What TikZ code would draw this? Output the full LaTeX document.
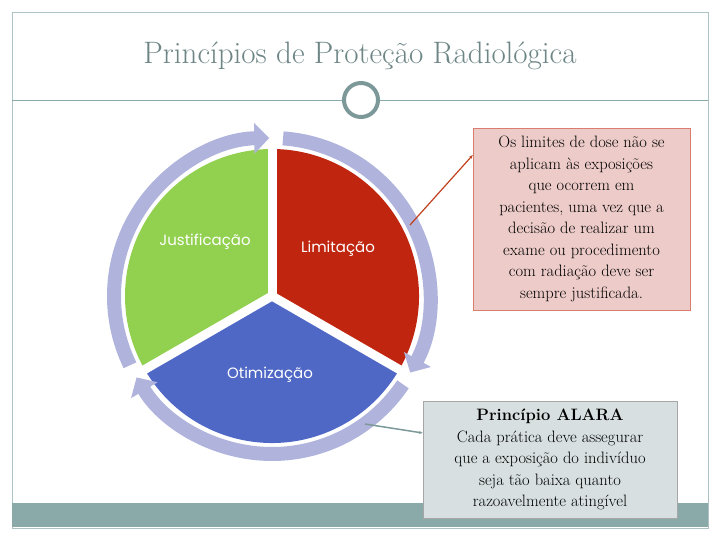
\documentclass[tikz,border=0pt]{standalone}
\usepackage{fontspec}
\newfontfamily\labfont{Poppins}
\usetikzlibrary{arrows.meta}
\definecolor{frame}{HTML}{8AA9A9}
\definecolor{ring}{HTML}{B0B4DC}
\definecolor{gr}{HTML}{92D050}
\definecolor{rd}{HTML}{C0260F}
\definecolor{bl}{HTML}{4F68C6}
\definecolor{pinkbox}{HTML}{ECCBC8}
\definecolor{graybox}{HTML}{D7DFE0}
\definecolor{titlec}{HTML}{6E8585}
\begin{document}
\begin{tikzpicture}[x=1pt,y=-1pt,
  lab/.style={text=white,font=\labfont\fontsize{15}{17}\selectfont},
  ringarc/.style={draw=ring,line width=14pt,-{Triangle[width=30pt,length=15pt]}},
  txt/.style={align=center,font=\fontsize{16.5}{21.5}\selectfont,inner sep=3pt}]
\useasboundingbox (0,0) rectangle (720,540);
\draw[frame!70,line width=0.8pt] (12,12) rectangle (708,528);
\fill[frame] (12,503) rectangle (708,527);
\node[text=titlec,font=\fontsize{31}{34}\selectfont] (title) at (360,56) {Princípios de Proteção Radiológica};
\node[circle,draw=frame!90!black,line width=4pt,minimum size=34pt,inner sep=0pt] (c) at (361,100) {};
\coordinate (l0) at (12,100); \coordinate (r0) at (708,100);
\draw[frame,line width=0.8pt] (l0) -- (c.west) (c.east) -- (r0);
% pie
\begin{scope}[shift={(272,296)},y=1pt]
  \fill[gr] (0,0) -- (90:147) arc[start angle=90,end angle=210,radius=147] -- cycle;
  \fill[rd] (0,0) -- (-30:147) arc[start angle=-30,end angle=90,radius=147] -- cycle;
  \fill[bl] (0,0) -- (210:147) arc[start angle=210,end angle=330,radius=147] -- cycle;
  \draw[ringarc] (206:158) arc[start angle=206,end angle=91,radius=158];
  \draw[ringarc] (86:158) arc[start angle=86,end angle=-29,radius=158];
  \draw[ringarc] (-34:158) arc[start angle=-34,end angle=-149,radius=158];
  \foreach \a in {90,210,330} \draw[white,line width=9pt] (0,0) -- (\a:149);
\end{scope}
\node[lab] (j) at (205,242) {Justificação};
\node[lab] (li) at (338,249) {Limitação};
\node[lab] (ot) at (270,375) {Otimização};
\node[txt,draw=rd!60,fill=pinkbox,minimum width=217pt,minimum height=182pt] (b1) at (581.5,219) {Os limites de dose não se\\aplicam às exposições\\que ocorrem em\\pacientes, uma vez que a\\decisão de realizar um\\exame ou procedimento\\com radiação deve ser\\sempre justificada.};
\node[txt,draw=gray!70,fill=graybox,minimum width=254pt,minimum height=117pt] (b2) at (550,459.5) {\textbf{Princípio ALARA}\\Cada prática deve assegurar\\que a exposição do indivíduo\\seja tão baixa quanto\\razoavelmente atingível};
\coordinate (a1) at (410,225);
\draw[rd!70!brown,line width=1.2pt,-{Stealth[length=4pt]}] (a1) -- (b1.west |- 0,155);
\coordinate (a2) at (365,424);
\draw[frame!90!black,line width=1.5pt,-{Stealth[length=4pt]}] (a2) -- (b2.west |- 0,433);
\end{tikzpicture}
\end{document}
